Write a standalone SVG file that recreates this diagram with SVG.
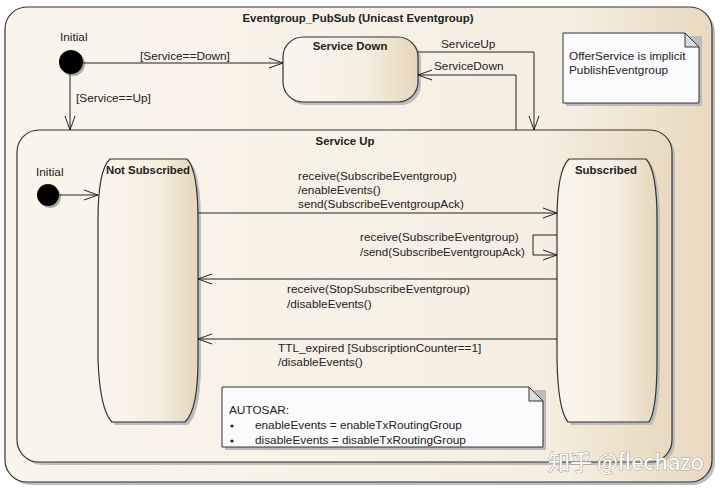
<svg xmlns="http://www.w3.org/2000/svg" width="720" height="491" viewBox="0 0 720 491">
<defs>
<linearGradient id="gBig" x1="0" y1="0" x2="1" y2="0">
<stop offset="0" stop-color="#faf5ec"/>
<stop offset="0.8" stop-color="#f6eee1"/>
<stop offset="1" stop-color="#e8d9bf"/>
</linearGradient>
<linearGradient id="gState" x1="0" y1="0" x2="1" y2="0">
<stop offset="0" stop-color="#faf5ec"/>
<stop offset="0.6" stop-color="#f6eee1"/>
<stop offset="1" stop-color="#e6d6bb"/>
</linearGradient>
<marker id="arr" markerWidth="16" markerHeight="12" refX="15" refY="6" orient="auto" markerUnits="userSpaceOnUse">
<path d="M1,1 L15,6 L1,11" fill="none" stroke="#222" stroke-width="1"/>
</marker>
</defs>
<style>
text{font-family:"Liberation Sans",Arial,sans-serif;font-size:11.8px;fill:#222}
.b{font-weight:bold;font-size:11.4px}
.frame{stroke:#333;stroke-width:1.2}
.sh{fill:#bdbdbd}
.ln{fill:none;stroke:#222;stroke-width:1}
.note{fill:#fbfbfd;stroke:#333;stroke-width:1}
.wm{font-family:"Noto Sans CJK SC","Liberation Sans",sans-serif;font-size:22px;fill:#ffffff;stroke:#9a9a9a;stroke-width:1;paint-order:stroke}
</style>
<rect width="720" height="491" fill="#ffffff"/>

<g id="outer">
<rect class="sh" x="8" y="10" width="707" height="475" rx="22"/>
<rect class="frame" x="5" y="7" width="707" height="475" rx="22" fill="url(#gBig)"/>
<text class="b" x="358" y="22" text-anchor="middle">Eventgroup_PubSub (Unicast Eventgroup)</text>
</g>

<g id="initial-top">
<circle cx="73" cy="64" r="12" fill="#aaa"/>
<circle cx="71" cy="62" r="12" fill="#000"/>
<text x="60" y="41">Initial</text>
</g>

<g id="service-down">
<rect class="sh" x="286" y="40" width="135" height="65" rx="20"/>
<rect class="frame" x="283" y="37" width="135" height="65" rx="20" fill="url(#gState)"/>
<text class="b" x="350" y="50" text-anchor="middle">Service Down</text>
</g>

<g id="note-offer">
<path d="M566,36 L702,36 L702,106 L566,106 Z" fill="#bbb"/>
<path class="note" d="M563,33 L685,33 L699,47 L699,103 L563,103 Z"/>
<path d="M685,33 L685,47 L699,47 Z" fill="#dcdce4" stroke="#333" stroke-width="1"/>
<text x="569" y="60">OfferService is implicit</text>
<text x="569" y="74">PublishEventgroup</text>
</g>

<g id="service-up">
<rect class="sh" x="20" y="133" width="655" height="332" rx="22"/>
<rect class="frame" x="17" y="130" width="655" height="332" rx="22" fill="url(#gBig)"/>
<text class="b" x="345" y="145" text-anchor="middle">Service Up</text>
</g>

<g id="initial-inner">
<circle cx="50" cy="197" r="11" fill="#aaa"/>
<circle cx="48" cy="195" r="11" fill="#000"/>
<text x="36" y="176">Initial</text>
</g>

<g id="not-subscribed">
<path class="sh" d="M113,162 L190,162 Q201,173 201,223 L201,363 Q201,413 188,425 L115,425 Q103,413 101,363 L101,223 Q101,173 113,162 Z"/>
<path class="frame" d="M110,159 L187,159 Q198,170 198,220 L198,360 Q198,410 185,422 L112,422 Q100,410 98,360 L98,220 Q98,170 110,159 Z" fill="url(#gState)"/>
<text class="b" x="148" y="174" text-anchor="middle">Not Subscribed</text>
</g>

<g id="subscribed">
<path class="sh" d="M572,162 L649,162 Q660,173 660,223 L660,363 Q660,413 652,425 L571,425 Q561,413 560,363 L560,223 Q560,173 572,162 Z"/>
<path class="frame" d="M569,159 L646,159 Q657,170 657,220 L657,360 Q657,410 649,422 L568,422 Q558,410 557,360 L557,220 Q557,170 569,159 Z" fill="url(#gState)"/>
<text class="b" x="606" y="174" text-anchor="middle">Subscribed</text>
</g>

<g id="note-autosar">
<path d="M225,390 L546,390 L546,450 L225,450 Z" fill="#bbb"/>
<path class="note" d="M222,387 L529,387 L543,401 L543,447 L222,447 Z"/>
<path d="M529,387 L529,401 L543,401 Z" fill="#dcdce4" stroke="#333" stroke-width="1"/>
<text x="229" y="414">AUTOSAR:</text>
<circle cx="232" cy="426" r="1.6" fill="#222"/>
<text x="255" y="429">enableEvents = enableTxRoutingGroup</text>
<circle cx="232" cy="441" r="1.6" fill="#222"/>
<text x="255" y="444">disableEvents = disableTxRoutingGroup</text>
</g>

<g id="connectors">
<path class="ln" d="M83,63 L283,63" marker-end="url(#arr)"/>
<text x="140" y="60">[Service==Down]</text>
<path class="ln" d="M70,74 L70,130" marker-end="url(#arr)"/>
<text x="76" y="102">[Service==Up]</text>
<path class="ln" d="M418,52 L534,52 L534,130" marker-end="url(#arr)"/>
<text x="441" y="48">ServiceUp</text>
<path class="ln" d="M516,130 L516,75 L418,75" marker-end="url(#arr)"/>
<text x="434" y="70">ServiceDown</text>
<path class="ln" d="M59,195 L98,195" marker-end="url(#arr)"/>
<path class="ln" d="M198,213 L557,213" marker-end="url(#arr)"/>
<text x="298" y="180">receive(SubscribeEventgroup)</text>
<text x="298" y="194">/enableEvents()</text>
<text x="298" y="208">send(SubscribeEventgroupAck)</text>
<path class="ln" d="M557,235 L533,235 L533,255 L557,255" marker-end="url(#arr)"/>
<text x="360" y="241">receive(SubscribeEventgroup)</text>
<text x="360" y="256" style="font-size:11.5px">/send(SubscribeEventgroupAck)</text>
<path class="ln" d="M557,279 L198,279" marker-end="url(#arr)"/>
<text x="287" y="293">receive(StopSubscribeEventgroup)</text>
<text x="287" y="308">/disableEvents()</text>
<path class="ln" d="M557,339 L198,339" marker-end="url(#arr)"/>
<text x="278" y="352">TTL_expired [SubscriptionCounter==1]</text>
<text x="278" y="366">/disableEvents()</text>
</g>

<g id="watermark">
<text class="wm" x="548" y="470">知乎 @flechazo</text>
</g>
</svg>
